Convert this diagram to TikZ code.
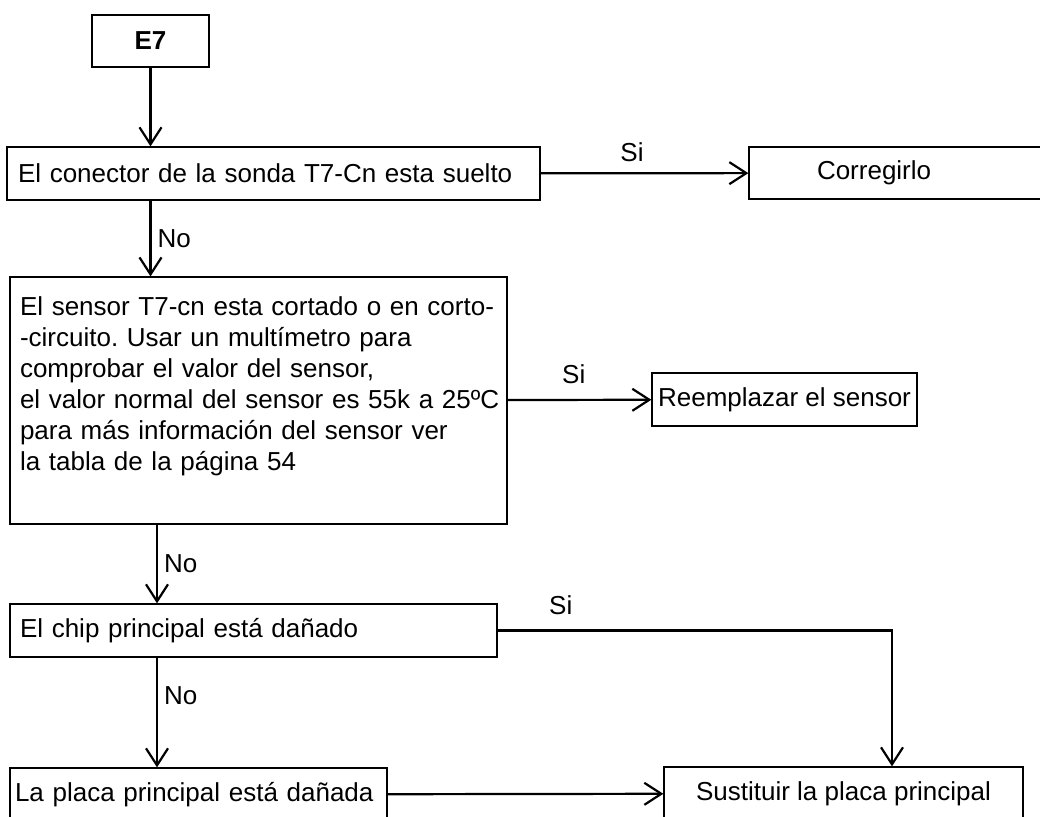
\documentclass[tikz,border=0pt]{standalone}
\usepackage{fontspec}
\setmainfont{Liberation Sans}
\usepackage{tikz}
\usetikzlibrary{arrows.meta, positioning, calc}
\frenchspacing
\definecolor{ink}{RGB}{0, 0, 0}
\newcommand{\flowfont}{\fontsize{26}{31}\selectfont}
\tikzset{
  stepbox/.style={
    draw=ink, line width=1.3pt, minimum height=53pt,
    inner ysep=0pt, font=\flowfont, align=left
  },
  endbox/.style={
    draw=ink, line width=1.3pt, minimum height=53pt,
    inner sep=0pt, font=\flowfont, align=center
  },
  flow/.style={-{Straight Barb[length=17pt, width=22pt]}, line width=2.2pt, ink},
  tag/.style={font=\flowfont, inner sep=2pt},
}
\begin{document}
\begin{tikzpicture}[x=1pt, y=-1pt]
  \fill[white] (0,0) rectangle (1040,816);
  \useasboundingbox (0,0) rectangle (1040,816);

  % ============ START ============
  \node[endbox, minimum width=117pt, minimum height=52pt,
        font=\flowfont\bfseries] (e7) at (150.5, 41) {E7};

  % ============ CHECKS (left column) ============
  \node[stepbox, text width=477pt, inner xsep=10pt, inner ysep=20pt,
        text depth=188pt, minimum height=0pt]
    (sens) at (258.5, 400.5) {El sensor T7-cn esta cortado o en corto-\\
      -circuito. Usar un multímetro para\\
      comprobar el valor del sensor,\\
      \mbox{el valor normal del sensor es 55k a 25ºC}\\
      para más información del sensor ver\\
      la tabla de la página 54};
  \node[stepbox, text width=511pt, inner xsep=11pt]
    (conn) at (273.5, 173.5) {El conector de la sonda T7-Cn esta suelto};
  \node[stepbox, text width=467pt, inner xsep=10pt]
    (chip) at (253.5, 630.5) {El chip principal está dañado};
  \node[stepbox, text width=367pt, inner xsep=5pt]
    (board) at (198.5, 794.5) {La placa principal está dañada};

  % ============ ACTIONS (right column) ============
  \node[stepbox, text width=200pt, inner xsep=68pt, minimum height=52pt]
    (fix) at (917, 173) {Corregirlo};
  \node[endbox, minimum width=265pt] (swap) at (784.5, 399.5) {Reemplazar el sensor};
  \node[endbox, minimum width=359pt] (repl) at (843.5, 793.5) {Sustituir la placa principal};

  \coordinate (col) at (157, 0);

  % ============ LINKS ============
  % No branches (down the left column)
  \draw[flow] (e7.south) -- (e7.south |- conn.north);
  \draw[flow] (e7.south |- conn.south) -- (e7.south |- sens.north)
    node[tag, midway, right=4pt] {No};
  \draw[flow] (col |- sens.south) -- (col |- chip.north)
    node[tag, midway, right=4pt] {No};
  \draw[flow] (col |- chip.south) -- (col |- board.north)
    node[tag, pos=0.35, right=4pt] {No};

  % Si branches (to the right)
  \draw[flow] (conn) -- (fix) node[tag, pos=0.44, above=8pt] {Si};
  \draw[flow] (sens) -- (swap) node[tag, pos=0.46, above=13pt] {Si};
  \draw[flow] (chip.east) -| ([xshift=48.5pt]repl.north)
    node[tag, pos=0.08, above=13pt] {Si};
  \draw[flow] (board) -- (repl);

\end{tikzpicture}
\end{document}
